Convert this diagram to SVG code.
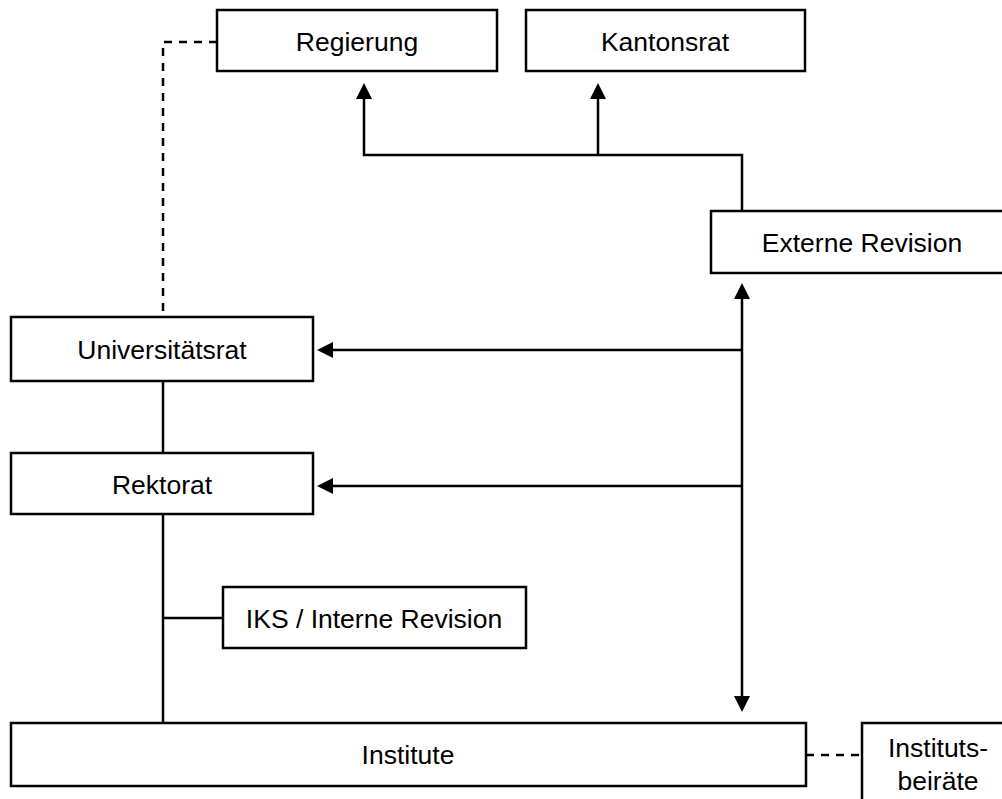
<svg xmlns="http://www.w3.org/2000/svg" width="1002" height="799" viewBox="0 0 1002 799">
<style>
.box{fill:#fff;stroke:#000;stroke-width:2.5}
.lbl{font-family:"Liberation Sans",Arial,sans-serif;font-size:26.5px;fill:#000;text-anchor:middle}
.ln{fill:none;stroke:#000;stroke-width:2.5}
.dash{fill:none;stroke:#000;stroke-width:2.5;stroke-dasharray:8,7}
</style>
<defs>
<marker id="arr" viewBox="0 0 16 16" markerWidth="16" markerHeight="16" refX="0" refY="8" orient="auto-start-reverse" markerUnits="userSpaceOnUse">
<path d="M0,0 L16,8 L0,16 z" fill="#000"/>
</marker>
</defs>
<rect width="1002" height="799" fill="#fff"/>
<g id="connectors">
<path class="dash" d="M217,42 H163 V317"/>
<path class="dash" d="M806,755 H862"/>
<path class="ln" d="M742,211 V155 H364 V99" marker-end="url(#arr)"/>
<path class="ln" d="M598,155 V99" marker-end="url(#arr)"/>
<path class="ln" d="M742,299 V696" marker-start="url(#arr)" marker-end="url(#arr)"/>
<path class="ln" d="M742,350 H333" marker-end="url(#arr)"/>
<path class="ln" d="M742,486 H333" marker-end="url(#arr)"/>
<path class="ln" d="M163,381 V453"/>
<path class="ln" d="M163,514 V723"/>
<path class="ln" d="M163,618 H223"/>
</g>
<g id="regierung"><rect class="box" x="217" y="10" width="280" height="61"/><text class="lbl" x="357" y="51">Regierung</text></g>
<g id="kantonsrat"><rect class="box" x="526" y="10" width="279" height="61"/><text class="lbl" x="665" y="51">Kantonsrat</text></g>
<g id="externe-revision"><rect class="box" x="711" y="211" width="305" height="62"/><text class="lbl" x="862" y="252">Externe Revision</text></g>
<g id="universitaetsrat"><rect class="box" x="11" y="317" width="302" height="64"/><text class="lbl" x="162" y="359">Universitätsrat</text></g>
<g id="rektorat"><rect class="box" x="11" y="453" width="302" height="61"/><text class="lbl" x="162" y="494">Rektorat</text></g>
<g id="iks"><rect class="box" x="223" y="587" width="303" height="61"/><text class="lbl" x="374" y="628">IKS / Interne Revision</text></g>
<g id="institute"><rect class="box" x="11" y="723" width="795" height="63"/><text class="lbl" x="408" y="764">Institute</text></g>
<g id="institutsbeiraete"><rect class="box" x="862" y="723" width="160" height="90"/><text class="lbl" x="938" y="757">Instituts-</text><text class="lbl" x="938" y="790">beiräte</text></g>
</svg>
